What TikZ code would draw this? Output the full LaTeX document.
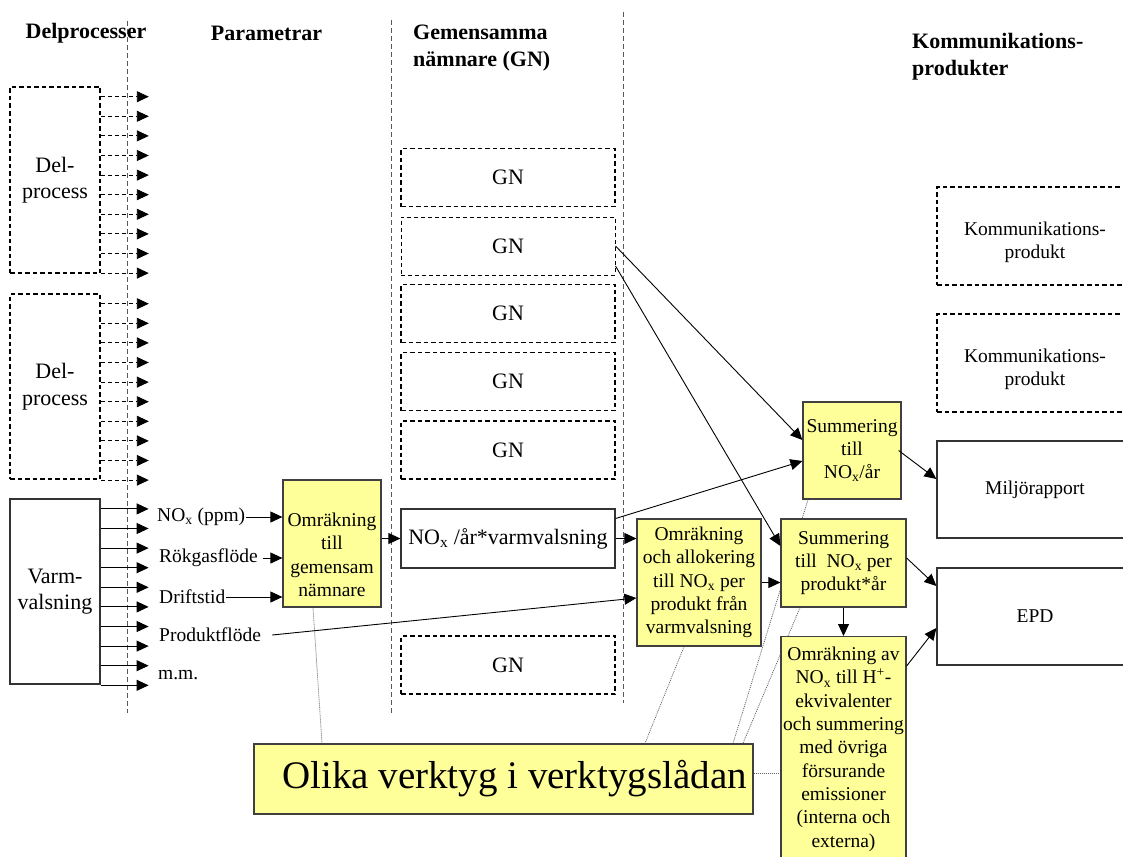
\documentclass[tikz,border=0pt]{standalone}
\usepackage{fontspec}
\setmainfont{Liberation Serif}
\usetikzlibrary{arrows.meta,backgrounds}
\definecolor{boxyellow}{RGB}{255,255,153}
\def\NOx{NO\textsubscript{x}}
\tikzset{
	head/.style={font=\bfseries\fontsize{22}{27}\selectfont, align=left, inner sep=0pt},
	big/.style={font=\fontsize{22}{26.5}\selectfont, align=center},
	small/.style={font=\fontsize{19.5}{23.3}\selectfont, align=center},
	sepline/.style={draw=black!65, line width=0.9pt, dash pattern=on 5pt off 3pt},
	dashbox/.style={draw, line width=1.6pt, dash pattern=on 4.5pt off 3pt},
	whitebox/.style={draw=black!80, line width=1.2pt, fill=white},
	ybox/.style={draw=black!75, line width=1.2pt, fill=boxyellow, small, inner sep=1pt},
	arr/.style={line width=0.9pt, -{Triangle[length=12pt,width=11pt]}},
	fan/.style={arr, dash pattern=on 4pt off 3pt},
	toolline/.style={draw=black!60, line width=0.8pt, dash pattern=on 1pt off 1pt}
}
\begin{document}
\begin{tikzpicture}[x=1pt, y=-1pt]
	%%%%% START %%%%%
	\useasboundingbox (0,0) rectangle (1123,856);
	\clip (0,0) rectangle (1123,856);
	
	\draw[sepline] (127,21) -- (127,713);
	\draw[sepline] (391,20) -- (391,713);
	\draw[sepline] (623,12) -- (623,703);
	
	\node[head] (hdel) at (86,33) {Delprocesser};
	\node[head] (hpar) at (266.5,33) {Parametrar};
	\node[head, anchor=west] (hgn) at (413,48.5) {Gemensamma\\nämnare (GN)};
	\node[head, anchor=west] (hkom) at (912,56.5) {Kommunikations-\\produkter};
	
	% delprocesser
	\node[dashbox, big, minimum width=90, minimum height=186] (dp1) at (55,180) {Del-\\process};
	\node[dashbox, big, minimum width=90, minimum height=185] (dp2) at (55,386.5) {Del-\\process};
	\node[whitebox, big, minimum width=90, minimum height=185] (vv) at (55,591.5) {Varm-\\valsning};
	\foreach \k in {0,...,9} {
		\draw[fan] ([yshift=-10.5-\k*19.6]dp1.north east) -- ++(48,0);
		\draw[fan] ([yshift=-10.5-\k*19.6]dp2.north east) -- ++(48,0);
		\draw[arr] ([yshift=-10.5-\k*19.6]vv.north east) -- ++(48,0);
	}
	
	% parametrar
	\node[small, anchor=west, inner sep=1pt] (nox) at (156,517) {\NOx{} (ppm)};
	\node[small, anchor=west, inner sep=1pt] (rok) at (158,558) {Rökgasflöde};
	\node[small, anchor=west, inner sep=1pt] (drift) at (158,597) {Driftstid};
	\node[small, anchor=west, inner sep=1pt] (prod) at (158,635) {Produktflöde};
	\node[small, anchor=west, inner sep=1pt] (mm) at (157,675) {m.m.};
	
	\node[ybox, minimum width=98, minimum height=127] (omr1) at (332,543.5) {\rule{0pt}{36pt}Omräkning\\till\\gemensam\\nämnare};
	\draw[arr] (nox.east) -- (nox.east -| omr1.west);
	\draw[arr] ([xshift=4]rok.east) -- (rok.east -| omr1.west);
	\draw[arr] (drift.east) -- (drift.east -| omr1.west);
	
	% gemensamma naemnare
	\foreach \n/\y in {1/177.5, 3/313.5, 4/381.5, 5/450, 6/665}
		\node[dashbox, big, minimum width=214, minimum height=58] (gn\n) at (508,\y) {GN};
	\node[draw, line width=1pt, dash pattern=on 4pt off 3pt, big, minimum width=214, minimum height=58] (gn2) at (508,246) {GN};
	\node[whitebox, big, minimum width=214, minimum height=59] (nv) at (508,538.5) {\NOx{} /år*varmvalsning};
	\draw[arr] (omr1.east |- nv) -- (nv.west);
	
	\node[ybox, minimum width=124, minimum height=127] (omr2) at (699,582.5) {Omräkning\\och allokering\\till \NOx{} per\\produkt från\\varmvalsning};
	\draw[arr] (nv.east) -- (nv.east -| omr2.west);
	\draw[arr] ([xshift=10]prod.east) -- ([yshift=-15.5]omr2.west);
	
	% summering
	\node[ybox, minimum width=98, minimum height=97] (sum1) at (852,450.5) {Summering\\till\\\NOx/år};
	\node[ybox, minimum width=125, minimum height=88] (sum2) at (843.5,563) {Summering\\till\ \ \NOx{} per\\produkt*år};
	\node[ybox, inner xsep=0pt, minimum width=125, minimum height=225, anchor=north] (omr3) at (843.5,636) {Omräkning av\\\NOx{} till H\textsuperscript{+}-\\ekvivalenter\\och summering\\med övriga\\försurande\\emissioner\\(interna och\\externa)};
	
	\draw[arr] (gn2.east) -- ([yshift=10.5]sum1.west);
	\draw[arr] ([yshift=-20]gn2.east) -- ([yshift=17]sum2.west);
	\draw[arr] ([yshift=20]nv.east) -- ([yshift=-10.5]sum1.west);
	\draw[arr] (omr2.east) -- (omr2.east -| sum2.west);
	\draw[arr] (sum2.south) -- (omr3.north);
	
	% kommunikationsprodukter
	\node[dashbox, small, minimum width=196, minimum height=98] (kp1) at (1035,236) {\rule{0pt}{26pt}Kommunikations-\\produkt};
	\node[dashbox, small, minimum width=196, minimum height=98] (kp2) at (1035,363) {\rule{0pt}{26pt}Kommunikations-\\produkt};
	\node[whitebox, small, minimum width=196, minimum height=97] (milj) at (1035,489.5) {Miljörapport};
	\node[whitebox, small, minimum width=196, minimum height=97] (epd) at (1035,616.5) {EPD};
	
	\draw[arr] ([xshift=-3]sum1.east) -- ([yshift=10.5]milj.west);
	\draw[arr] ([yshift=5]sum2.east) -- ([yshift=30.5]epd.west);
	\draw[arr] ([yshift=-30]omr3.north east) -- ([yshift=-11.5]epd.west);
	
	% verktygslaadan
	\node[draw=black!75, line width=1.2pt, fill=boxyellow, font=\fontsize{39}{44}\selectfont, minimum width=499, minimum height=70] (tools) at (503.5,779) {\hspace*{22pt}Olika verktyg i verktygslådan};
	
	\begin{pgfonlayer}{background}
		\draw[toolline] ([xshift=-19]omr1.south) -- ([xshift=-181.5]tools.north);
		\draw[toolline] ([xshift=-15]omr2.south) -- ([xshift=141.5]tools.north);
		\draw[toolline] ([xshift=-44]sum1.south) -- ([xshift=229.5]tools.north);
		\draw[toolline] ([xshift=-43.5]sum2.south) -- ([xshift=239.5]tools.north);
		\draw[toolline] ([yshift=6]tools.east) -- ([yshift=6]tools.east -| omr3.west);
	\end{pgfonlayer}
	
	%%%%% END %%%%%
\end{tikzpicture}
\end{document}
